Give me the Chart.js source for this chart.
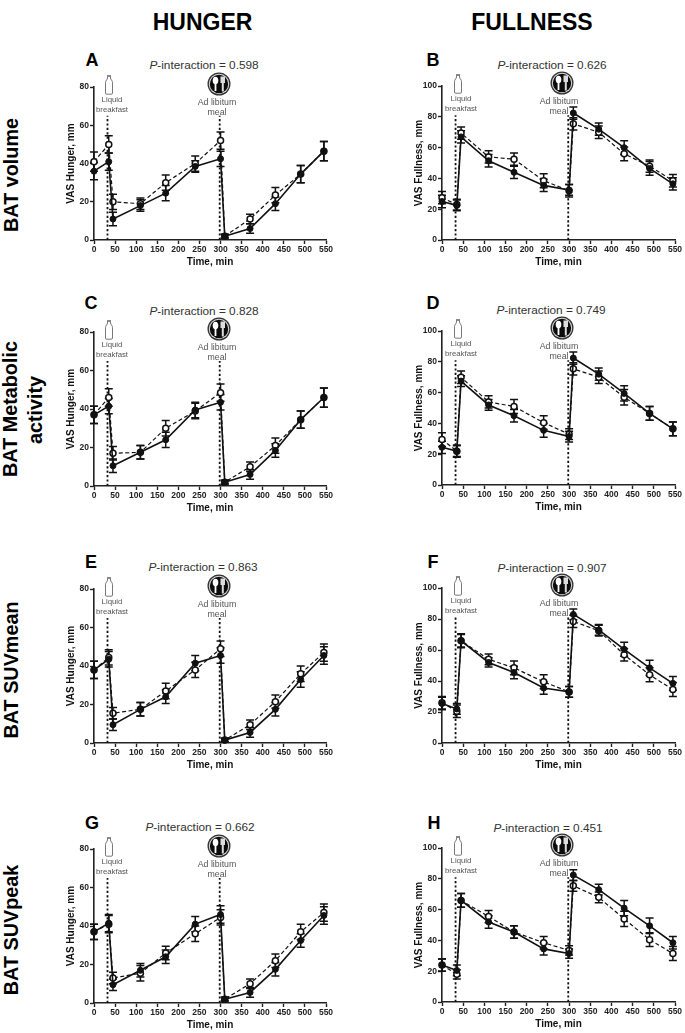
<!DOCTYPE html>
<html>
<head>
<meta charset="utf-8">
<script src="https://cdn.jsdelivr.net/npm/chart.js@4"></script>
<style>
html,body{margin:0;padding:0;background:#fff;width:685px;height:1033px;overflow:hidden;font-family:"Liberation Sans",Arial,sans-serif}
.abs{position:absolute;white-space:nowrap;transform:translate(-50%,-50%);line-height:1}
.head{font-weight:bold;font-size:23px;color:#000}
.row{font-weight:bold;font-size:19.8px;color:#000;transform:translate(-50%,-50%) rotate(-90deg)}
.letter{font-weight:bold;font-size:18px;color:#000}
.pval{font-size:11.8px;color:#333}
.note{color:#555;font-size:7.8px}
.noteM{color:#555;font-size:8.8px}
canvas{display:block;filter:blur(.35px)}
.cw{position:absolute}
svg{position:absolute;overflow:visible}
</style>
</head>
<body>
<script>
// Time points (min)
const times = [0,35,45,110,170,240,300,310,370,430,490,545];
const xTicks = [0,50,100,150,200,250,300,350,400,450,500,550];
const hungerTicks = [0,20,40,60,80];
const fullnessTicks = [0,20,40,60,80,100];
const eventTimes = [32,298];

// Panel A
const A_open   = [41,50,20,19,30,40,52,2,11,23.5,34.5,46.5];
const A_openE  = [5,4.5,4,3,4,4,4.5,1,2.5,4,4.5,5];
const A_fill   = [36,41,11,18,24.5,38.5,42.5,2,6,19,34.5,46.5];
const A_fillE  = [4.5,4.5,3.5,3,4,3,4,1,2.5,3.5,4.5,5];
// Panel B
const B_open   = [27.5,23,69.5,54,52.5,38.5,32,75.5,70,56,48,38.5];
const B_openE  = [4,3.5,4,4,4,4.5,4,4,4,4.5,4,4];
const B_fill   = [25,22.5,67,51.5,44,35.5,32.5,82.5,72,60,46.5,36.5];
const B_fillE  = [4,3.5,4,4,4,4,3.5,4,4,4.5,4.5,4];
// Panel C
const C_open   = [37,46,17,17.5,30,39,48.5,2,10,21,34.5,46];
const C_openE  = [4.5,4.5,3.5,3.5,4,4,4.5,1,2.5,4,4.5,5];
const C_fill   = [37,41.5,10.5,17.5,24,39.5,43.5,2,6,18.5,34.5,46];
const C_fillE  = [4.5,4,3.5,3.5,4,4,4,1,2.5,3.5,4.5,5];
// Panel D
const D_open   = [29.5,22,70,54,51,40.5,33,75.5,70,57,46.5,36.5];
const D_openE  = [4.5,4,4,4,4.5,4.5,3.5,4,4,5,4.5,4.5];
const D_fill   = [24.5,22,67.5,52,45,35.5,31.5,82.5,72,59.5,46.5,36.5];
const D_fillE  = [4,3.5,3.5,3.5,4,4.5,3.5,4,4,5,4.5,4.5];
// Panel E
const E_open   = [38,44.5,15.5,17.5,27,38,49,1.5,9.5,21.5,36,47];
const E_openE  = [4.5,4,3,3.5,4,4,4,1,2.5,3.5,4,4.5];
const E_fill   = [38,43.5,9.5,17.5,24,41.5,45.5,1.5,5.5,17.5,33,45.5];
const E_fillE  = [4.5,4,3,3.5,3.5,4,4,1,2.5,3.5,4,4.5];
// Panel F
const F_open   = [26,20.5,66,54,48.5,39.5,33,78.5,72.5,57,44,34.5];
const F_openE  = [4,4,4,3.5,4.5,4.5,3.5,4,3.5,4,4.5,4.5];
const F_fill   = [25.5,22,66,52,45.5,35.5,33,83,73,60.5,48.5,38.5];
const F_fillE  = [4,3.5,4.5,3,4,4,3.5,3.5,3.5,4.5,5,4.5];
// Panel G
const G_open   = [37,41,13,15.5,26,36,44.5,2,10,22,37,47];
const G_openE  = [4,4.5,3,4,3.5,4,4,1,2.5,3.5,4,4.5];
const G_fill   = [37,41.5,9.5,17,24,41,46,2,5.5,17.5,32.5,45.5];
const G_fillE  = [4,4.5,3,3.5,3.5,4,4.5,1,2.5,3.5,3.5,4.5];
// Panel H
const H_open   = [24,18,66,55.5,45.5,38.5,33.5,75.5,68,54,40.5,31.5];
const H_openE  = [4,3,4.5,4,4,4,3,3.5,3.5,5,4.5,4.5];
const H_fill   = [24,20.5,66,52,45.5,34.5,31.5,82.5,73,61,49.5,38.5];
const H_fillE  = [4,3.5,4.5,4,4,4,3,3.5,3.5,5,5,4];

const hungerTitle = 'VAS Hunger, mm';
const fullnessTitle = 'VAS Fullness, mm';
const timeTitle = 'Time, min';
const noteLiquid = ['Liquid','breakfast'];
const noteMeal = ['Ad libitum','meal'];

const panels = [
 {id:'A',p:'0.598',x0:94, x1:326,yt:87, yb:240,ymax:80, open:A_open,openE:A_openE,fill:A_fill,fillE:A_fillE,pc:[204,66],lc:[92,60]},
 {id:'B',p:'0.626',x0:442,x1:675,yt:86, yb:240,ymax:100,open:B_open,openE:B_openE,fill:B_fill,fillE:B_fillE,pc:[552,66],lc:[433,60]},
 {id:'C',p:'0.828',x0:94, x1:326,yt:332,yb:486,ymax:80, open:C_open,openE:C_openE,fill:C_fill,fillE:C_fillE,pc:[204,312],lc:[91,303]},
 {id:'D',p:'0.749',x0:442,x1:675,yt:331,yb:485,ymax:100,open:D_open,openE:D_openE,fill:D_fill,fillE:D_fillE,pc:[551,311],lc:[433,303]},
 {id:'E',p:'0.863',x0:94, x1:326,yt:589,yb:743,ymax:80, open:E_open,openE:E_openE,fill:E_fill,fillE:E_fillE,pc:[203,568],lc:[91,562]},
 {id:'F',p:'0.907',x0:442,x1:675,yt:588,yb:743,ymax:100,open:F_open,openE:F_openE,fill:F_fill,fillE:F_fillE,pc:[552,569],lc:[433,562]},
 {id:'G',p:'0.662',x0:94, x1:326,yt:849,yb:1003,ymax:80,open:G_open,openE:G_openE,fill:G_fill,fillE:G_fillE,pc:[200,828],lc:[92,823]},
 {id:'H',p:'0.451',x0:442,x1:675,yt:848,yb:1002,ymax:100,open:H_open,openE:H_openE,fill:H_fill,fillE:H_fillE,pc:[548,829],lc:[434,823]}
];

function addText(cls,x,y,html){
  const d=document.createElement('div');d.className='abs '+cls;
  d.style.left=x+'px';d.style.top=y+'px';d.innerHTML=html;document.body.appendChild(d);return d;
}
function addSvg(x,y,w,h,inner){
  const s=document.createElementNS('http://www.w3.org/2000/svg','svg');
  s.setAttribute('width',w);s.setAttribute('height',h);s.setAttribute('viewBox','0 0 '+w+' '+h);
  s.style.left=x+'px';s.style.top=y+'px';s.innerHTML=inner;document.body.appendChild(s);
}
addText('head',202.5,22,'HUNGER');
addText('head',532,22,'FULLNESS');
addText('row',12,175,'BAT volume');
addText('row',11,409,'BAT Metabolic');
addText('row',36,410,'activity');
addText('row',12,670,'BAT SUVmean');
addText('row',12,930,'BAT SUVpeak');

const errorBars={id:'errorBars',beforeDatasetsDraw(chart){
  const c=chart.ctx,y=chart.scales.y,x=chart.scales.x;
  c.save();c.strokeStyle='#111';c.lineWidth=1.5;
  chart.data.datasets.forEach(ds=>{
    if(!ds.errs)return;
    ds.data.forEach((pt,i)=>{
      const px=x.getPixelForValue(pt.x),hi=y.getPixelForValue(pt.y+ds.errs[i]),lo=y.getPixelForValue(pt.y-ds.errs[i]);
      c.beginPath();c.moveTo(px,hi);c.lineTo(px,lo);
      c.moveTo(px-4,hi);c.lineTo(px+4,hi);c.moveTo(px-4,lo);c.lineTo(px+4,lo);c.stroke();
    });
  });
  c.restore();
}};

const PADL=29,PADR=9,PADT=6,XH=28;
panels.forEach(P=>{
  const right=P.x0>200;
  const left=P.x0-PADL,top=P.yt-PADT;
  const w=P.x1-P.x0+PADL+PADR,h=P.yb-P.yt+PADT+XH;
  const wrap=document.createElement('div');wrap.className='cw';
  wrap.style.cssText='left:'+left+'px;top:'+top+'px;width:'+w+'px;height:'+h+'px';
  const cv=document.createElement('canvas');cv.width=w;cv.height=h;wrap.appendChild(cv);document.body.appendChild(wrap);
  const toPts=a=>a.map((v,i)=>({x:times[i],y:v}));
  const evTop=P.ymax===80?65:81;
  new Chart(cv,{
    type:'scatter',
    plugins:[errorBars],
    data:{datasets:[
      {data:toPts(P.fill),errs:P.fillE,showLine:true,borderColor:'#111',borderWidth:1.6,pointRadius:3,pointBackgroundColor:'#111',pointBorderColor:'#111',pointBorderWidth:1,clip:false,order:1},
      {data:toPts(P.open),errs:P.openE,showLine:true,borderColor:'#111',borderWidth:1.2,borderDash:[4,2.5],pointRadius:3,pointBackgroundColor:'#fff',pointBorderColor:'#111',pointBorderWidth:1.5,clip:false,order:2},
      {data:[{x:eventTimes[0],y:0},{x:eventTimes[0],y:evTop}],showLine:true,borderColor:'#111',borderWidth:1.8,borderDash:[2.2,2.2],pointRadius:0,order:3},
      {data:[{x:eventTimes[1],y:0},{x:eventTimes[1],y:evTop}],showLine:true,borderColor:'#111',borderWidth:1.8,borderDash:[2.2,2.2],pointRadius:0,order:3}
    ]},
    options:{
      responsive:false,maintainAspectRatio:false,animation:false,
      layout:{autoPadding:false,padding:{left:0,right:PADR,top:PADT,bottom:0}},
      plugins:{legend:{display:false},tooltip:{enabled:false},title:{display:false}},
      scales:{
        x:{type:'linear',min:0,max:550,
          afterFit(s){s.height=XH;},
          afterBuildTicks(s){s.ticks=xTicks.map(v=>({value:v}));},
          grid:{drawOnChartArea:false,drawTicks:true,tickLength:4,tickColor:'#222',tickWidth:1.4},
          border:{color:'#222',width:1.6},
          ticks:{autoSkip:false,maxRotation:0,padding:1,color:'#222',font:{family:'"Liberation Sans"',size:8.5,weight:'bold'}},
          title:{display:true,text:timeTitle,color:'#111',padding:{top:2,bottom:0},font:{family:'"Liberation Sans"',size:10,weight:'bold'}}
        },
        y:{type:'linear',min:0,max:P.ymax,
          afterFit(s){s.width=PADL;},
          afterBuildTicks(s){s.ticks=(P.ymax===80?hungerTicks:fullnessTicks).map(v=>({value:v}));},
          grid:{drawOnChartArea:false,drawTicks:true,tickLength:4,tickColor:'#222',tickWidth:1.4},
          border:{color:'#222',width:1.6},
          ticks:{padding:1,color:'#222',font:{family:'"Liberation Sans"',size:8.5,weight:'bold'}},
          title:{display:true,text:P.ymax===80?hungerTitle:fullnessTitle,color:'#111',padding:{top:0,bottom:2},font:{family:'"Liberation Sans"',size:10,weight:'bold'}}
        }
      }
    }
  });
  // Headings and notes
  addText('letter',P.lc[0],P.lc[1],P.id);
  addText('pval',P.pc[0],P.pc[1],'<i>P</i>-interaction = '+P.p);
  const bx=right?P.x0+16:P.x0+15, by=P.yt-12;
  const tx=right?P.x0+19:P.x0+18;
  const mx=right?P.x0+120:P.x0+125;
  const tm=right?P.x0+117:P.x0+123;
  addSvg(bx-4,by,8,20,'<path d="M2.5 .5h3v2.5c0 1.5 2 2.5 2 4.5v10.5a1.2 1.2 0 0 1-1.2 1.2h-4.6A1.2 1.2 0 0 1 .5 18V7.5c0-2 2-3 2-4.5z" fill="#fff" stroke="#555" stroke-width=".8"/><rect x="2.3" y="0" width="3.4" height="2" fill="#888"/>');
  addSvg(mx-12,P.yt-15,24,24,'<circle cx="12" cy="12" r="11.5" fill="#333"/><circle cx="12" cy="12" r="10.2" fill="#ddd"/><circle cx="12" cy="12" r="9.2" fill="#0c0c0c"/><ellipse cx="8.5" cy="8.5" rx="2.8" ry="3.8" fill="#fff"/><rect x="7.6" y="11" width="1.8" height="8" fill="#fff"/><path d="M13.5 4.5h4.5v6.5h-1.2v8.5h-2v-8.5h-1.3z" fill="#ddd"/>');
  addText('note',tx,P.yt+13,noteLiquid[0]);
  addText('note',tx,P.yt+23,noteLiquid[1]);
  addText('noteM',tm,P.yt+15,noteMeal[0]);
  addText('noteM',tm,P.yt+25,noteMeal[1]);
});
</script>
</body>
</html>
